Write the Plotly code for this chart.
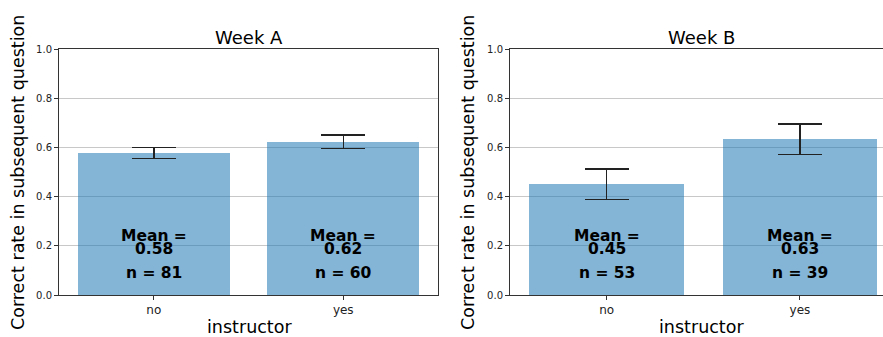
import plotly.graph_objects as go

categories = ["no", "yes"]
weeks = ["Week A", "Week B"]
means_a = [0.578, 0.624]
err_lo_a = [0.555, 0.596]
err_hi_a = [0.600, 0.650]
n_a = [81, 60]
means_b = [0.453, 0.635]
err_lo_b = [0.389, 0.572]
err_hi_b = [0.513, 0.696]
n_b = [53, 39]
mean_labels_a = ["0.58", "0.62"]
mean_labels_b = ["0.45", "0.63"]
yticks = [0.0, 0.2, 0.4, 0.6, 0.8, 1.0]

W, H = 883, 337
fig = go.Figure()

bar_color = "rgba(31,119,180,0.55)"
font_family = "DejaVu Sans"

datasets = [
    (means_a, err_lo_a, err_hi_a, n_a, mean_labels_a, "x", "y"),
    (means_b, err_lo_b, err_hi_b, n_b, mean_labels_b, "x2", "y2"),
]
xs = [0, 1]
for means, lo, hi, ns, mlabels, xa, ya in datasets:
    fig.add_trace(go.Bar(
        x=xs, y=means, width=0.8, marker=dict(color=bar_color, line=dict(width=0)),
        error_y=dict(type="data", symmetric=False,
                     array=[h - m for h, m in zip(hi, means)],
                     arrayminus=[m - l for m, l in zip(means, lo)],
                     color="#222", thickness=1.5, width=22),
        xaxis=xa, yaxis=ya, showlegend=False, hoverinfo="skip"))
    for i, x in enumerate(xs):
        for txt, yv in [("Mean =", 0.238), (mlabels[i], 0.187), ("n = %d" % ns[i], 0.089)]:
            fig.add_annotation(x=x, y=yv, xref=xa, yref=ya, text="<b>%s</b>" % txt,
                               showarrow=False, xanchor="center", yanchor="middle",
                               font=dict(family=font_family, size=15.5, color="black"))

ydom = [1 - 295 / H, 1 - 49 / H]
axis_common = dict(showline=True, linecolor="#333", linewidth=1, ticks="outside",
                   ticklen=4, tickcolor="#333", tickwidth=1, automargin=False)
fig.update_layout(
    width=W, height=H, margin=dict(l=0, r=0, t=0, b=0, autoexpand=False),
    plot_bgcolor="white", paper_bgcolor="white", bargap=0,
    font=dict(family=font_family, color="#222"),
    xaxis=dict(domain=[59 / W, 438 / W], range=[-0.5, 1.5], tickvals=xs, ticktext=categories,
               mirror=True, tickfont=dict(size=12), showgrid=False, zeroline=False, **axis_common),
    yaxis=dict(domain=ydom, range=[0, 1], tickvals=yticks, ticktext=["%.1f" % t for t in yticks],
               mirror=True, showgrid=True, gridcolor="#c8c8c8", gridwidth=1, zeroline=False,
               tickfont=dict(size=10), **axis_common),
    xaxis2=dict(domain=[510 / W, 1.0], range=[-0.5, 1.43], tickvals=xs, ticktext=categories,
                mirror=True, tickfont=dict(size=12), showgrid=False, zeroline=False, anchor="y2",
                **axis_common),
    yaxis2=dict(domain=ydom, range=[0, 1], tickvals=yticks, ticktext=["%.1f" % t for t in yticks],
                mirror=False, showgrid=True, gridcolor="#c8c8c8", gridwidth=1, zeroline=False,
                tickfont=dict(size=10), anchor="x2", **axis_common),
)

# titles and axis labels
for title, cx in zip(weeks, [249, 701]):
    fig.add_annotation(x=cx / W, y=1 - 37 / H, xref="paper", yref="paper", text=title,
                       showarrow=False, xanchor="center", yanchor="middle",
                       font=dict(family=font_family, size=18, color="black"))
for cx in [249, 701]:
    fig.add_annotation(x=cx / W, y=1 - 327 / H, xref="paper", yref="paper", text="instructor",
                       showarrow=False, xanchor="center", yanchor="middle",
                       font=dict(family=font_family, size=17.5, color="black"))
for cx in [18, 468]:
    fig.add_annotation(x=cx / W, y=1 - 173 / H, xref="paper", yref="paper",
                       text="Correct rate in subsequent question", textangle=-90,
                       showarrow=False, xanchor="center", yanchor="middle",
                       font=dict(family=font_family, size=17.5, color="black"))

fig.write_html("out.html", config={"displayModeBar": False},
               post_script="document.body.style.margin='0';document.body.style.padding='0';")
